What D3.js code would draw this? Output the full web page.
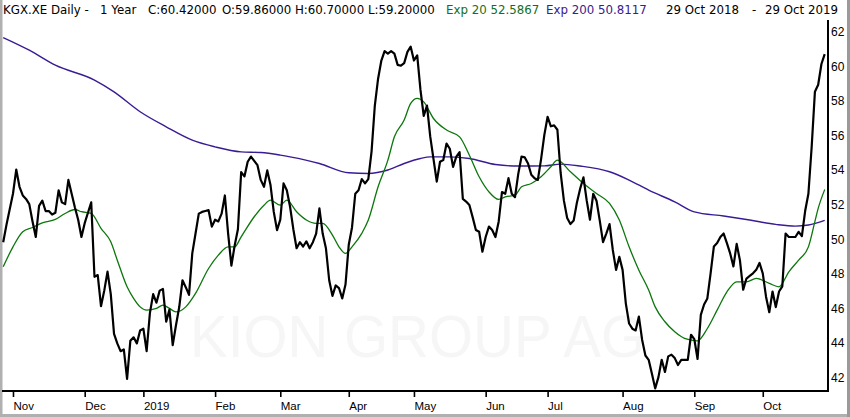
<!DOCTYPE html>
<html><head><meta charset="utf-8">
<script src="https://cdn.jsdelivr.net/npm/d3@7/dist/d3.min.js"></script>
<style>html,body{margin:0;padding:0;background:#fff;}svg{display:block;}</style>
</head><body>
<svg id="chart" width="850" height="417"></svg>
<script>
// ---- data ----
const closes = [
49.55,50.55,51.45,52.35,53.75,52.75,52.25,52.05,51.75,50.75,
49.85,51.65,51.95,51.35,51.35,51.15,51.25,52.55,51.85,51.75,
53.15,52.35,51.55,50.85,49.85,50.65,51.25,51.85,47.55,47.65,
45.85,46.75,47.85,46.55,44.25,43.7,43.25,43.35,41.65,43.85,
44.05,43.7,44.45,44.55,43.25,45.45,46.55,46.05,46.75,46.85,
44.95,45.65,43.6,44.75,45.8,47.35,46.95,46.5,48.9,50.05,
51.2,51.3,51.35,51.4,50.45,50.85,50.75,51.2,52.25,50.05,
48.2,49.35,50.3,53.6,53.35,54.2,54.5,54.25,54.0,53.15,
52.75,53.7,52.85,51.3,50.25,50.85,52.95,52.55,51.6,50.3,
49.2,49.55,49.3,49.6,49.2,49.55,50.05,51.5,50.05,49.2,
47.35,46.45,47.05,46.9,46.3,47.1,49.4,50.4,52.35,52.55,
53.2,52.95,53.2,54.8,57.45,59.0,60.05,60.6,60.45,60.6,
60.45,59.8,59.75,59.9,60.55,60.85,60.05,60.35,58.35,56.85,
57.45,55.65,54.35,53.05,54.2,54.3,55.25,54.95,53.9,54.5,
54.75,52.05,51.9,51.7,51.0,50.25,50.15,49.0,49.85,50.45,
50.25,49.85,50.75,52.45,52.35,53.25,52.35,52.15,53.5,54.5,
54.45,54.1,53.45,53.25,53.15,54.35,55.75,56.8,56.25,56.3,
56.05,53.55,51.95,50.95,50.6,50.8,51.85,52.65,53.3,51.95,
50.85,52.35,51.95,50.8,49.55,50.05,50.6,49.1,47.95,48.7,
47.95,46.0,44.85,44.55,44.45,45.25,43.9,43.0,42.75,41.95,
41.1,41.75,42.75,42.05,42.95,43.05,42.85,42.45,42.75,42.75,
42.75,44.2,43.95,42.8,45.35,45.95,46.3,47.75,49.3,49.5,
49.85,50.05,49.5,48.9,48.15,49.45,48.5,46.8,47.45,47.6,
47.75,47.95,48.35,47.75,46.4,45.5,46.7,45.8,46.7,47.0,
50.05,49.85,49.85,49.85,50.15,49.9,51.35,52.35,55.05,58.25,
58.65,59.85,60.42
];

// EMA 20 read at sampled trading days (day number from first bar)
const ema20Day = [0,3,6,9,12,16,19,22,24,27,30,33,35,38,40,42,44,47,49,51,53,56,59,63,66,69,71,73,77,80,82,85,87,90,93,96,98,101,103,105,107,110,112,115,118,120,123,125,127,129,132,136,140,143,146,149,152,154,157,159,162,165,168,170,174,178,182,186,189,192,195,198,200,203,206,209,212,213,216,219,222,225,228,231,235,238,241,244,247,249,250,252];
const ema20Val = [48.13,49.28,50.15,50.4,50.67,50.87,51.21,51.44,51.31,51.21,50.35,49.57,48.51,46.97,46.3,45.81,45.62,45.72,45.91,45.72,45.52,45.81,46.59,48.03,48.8,49.28,49.28,49.86,51.02,51.69,51.98,51.69,51.98,51.31,50.83,50.64,50.64,49.96,49.28,48.9,49.28,50.06,50.83,52.75,54.29,55.64,56.61,57.57,57.86,57.66,56.7,56.03,55.64,54.58,53.33,52.46,52.02,52.17,52.27,52.75,52.94,53.33,53.91,54.29,53.62,52.94,52.37,51.79,50.83,49.28,47.93,46.78,45.81,44.95,44.37,43.99,43.87,43.85,44.56,45.62,46.68,47.26,47.26,47.46,47.17,46.97,47.84,48.51,49.28,50.75,51.5,52.59];

// EMA 200 read at sampled trading days
const ema200Day = [0,8,16,28,34,42,50,58,65,73,79,85,88,97,106,112,118,123,128,131,137,143,151,158,166,171,177,186,192,198,206,212,221,229,237,243,247,252];
const ema200Val = [61.38,60.65,59.78,58.92,58.24,57.09,56.22,55.45,55.06,54.77,54.73,54.58,54.48,54.1,53.56,53.52,53.72,54.1,54.39,54.48,54.48,54.39,54.04,53.95,53.96,54.06,53.95,53.62,53.14,52.56,51.88,51.3,51.06,50.83,50.58,50.48,50.54,50.81];

const yTicks = [42,44,46,48,50,52,54,56,58,60,62];
const monthNames = ["2019","Feb","Mar","Apr","May","Jun","Jul","Aug","Sep","Oct","Nov","Dec"];
const holidays = ["2018-12-24","2018-12-25","2018-12-26","2019-01-01","2019-04-19","2019-04-22","2019-05-01","2019-06-10","2019-10-03"];
const titleParts = ["KGX.XE Daily -","1 Year","C:60.42000","O:59.86000","H:60.70000","L:59.20000","Exp 20 52.5867","Exp 200 50.8117","29 Oct 2018","-","29 Oct 2019"];
const watermark = "KION GROUP AG";

// ---- trading calendar ----
const fmt = d3.timeFormat("%Y-%m-%d");
const hol = new Set(holidays);
const dates = [];
for (let d = new Date(2018,9,29); d <= new Date(2019,9,29); d.setDate(d.getDate()+1)) {
  const wd = d.getDay();
  if (wd === 0 || wd === 6 || hol.has(fmt(d))) continue;
  dates.push(new Date(d));
}
const monthStarts = [];
for (let i = 1; i < dates.length; i++) if (dates[i].getMonth() !== dates[i-1].getMonth()) monthStarts.push(i);

// ---- layout ----
const svg = d3.select("#chart");
const W = 850, H = 417;
const plotRight = 828, axisY = 391, plotTop = 20;
const x = d3.scaleLinear().domain([0, closes.length - 1]).range([3.2, 824.7]);
const y = d3.scaleLinear().domain([42, 62]).range([372.8, 26.8]);

// window border
svg.append("rect").attr("x",0).attr("y",0).attr("width",W).attr("height",H).attr("fill","#fff");
svg.append("rect").attr("x",0).attr("y",0).attr("width",2.5).attr("height",H).attr("fill","#b0b0b0");
svg.append("rect").attr("x",0).attr("y",414).attr("width",W).attr("height",3).attr("fill","#b0b0b0");
svg.append("rect").attr("x",847).attr("y",0).attr("width",3).attr("height",H).attr("fill","#9a9a9a");

// watermark
svg.append("text").attr("x",190).attr("y",357)
  .attr("font-family","Liberation Sans, Arial, sans-serif").attr("font-size",60)
  .attr("textLength",455).attr("lengthAdjust","spacingAndGlyphs")
  .attr("fill","#f6f6f6").text(watermark);

// lines
const lineClose = d3.line().x((d,i)=>x(i)).y(d=>y(d));
const lineSparse = d3.line().x(d=>x(d[0])).y(d=>y(d[1])).curve(d3.curveMonotoneX);

svg.append("path").datum(ema200Day.map((d,i)=>[d,ema200Val[i]]))
  .attr("d",lineSparse).attr("fill","none").attr("stroke","#3a1b94").attr("stroke-width",1.4);
svg.append("path").datum(ema20Day.map((d,i)=>[d,ema20Val[i]]))
  .attr("d",lineSparse).attr("fill","none").attr("stroke","#0c760c").attr("stroke-width",1.3);
svg.append("path").datum(closes)
  .attr("d",lineClose).attr("fill","none").attr("stroke","#000").attr("stroke-width",2.2)
  .attr("stroke-linejoin","round");

// frame
svg.append("line").attr("x1",plotRight).attr("x2",plotRight).attr("y1",plotTop).attr("y2",axisY+1)
  .attr("stroke","#000").attr("stroke-width",2);
svg.append("line").attr("x1",2).attr("x2",plotRight+1).attr("y1",axisY).attr("y2",axisY)
  .attr("stroke","#000").attr("stroke-width",2);

// x axis
const xAxis = d3.axisBottom(x).tickValues(monthStarts)
  .tickFormat(i => monthNames[dates[i].getMonth()]).tickSize(6);
const gx = svg.append("g").attr("transform",`translate(0,${axisY})`).call(xAxis);
gx.select(".domain").remove();
gx.selectAll(".tick line").attr("stroke","#000").attr("stroke-width",1.6);
gx.selectAll(".tick text").attr("text-anchor","start").attr("x",0).attr("y",19).attr("dy",null)
  .attr("fill","#000").attr("font-family","Liberation Sans, Arial, sans-serif").attr("font-size",11.5);

// y axis (right)
const yAxis = d3.axisRight(y).tickValues(yTicks).tickSize(0).tickFormat(d3.format("d"));
const gy = svg.append("g").attr("transform",`translate(${plotRight},0)`).call(yAxis);
gy.select(".domain").remove();
gy.selectAll(".tick text").attr("x",3).attr("y",8.6).attr("dy",null)
  .attr("fill","#000").attr("font-family","Liberation Sans, Arial, sans-serif").attr("font-size",12);

// title
const titleX = [3,100,148,222,295,368,446,546,666,752,765];
const titleColor = ["#000","#000","#000","#000","#000","#000","#11701a","#35208c","#000","#000","#000"];
svg.append("g").selectAll("text").data(titleParts).join("text")
  .attr("x",(d,i)=>titleX[i]).attr("y",14)
  .attr("font-family","DejaVu Sans, Verdana, sans-serif").attr("font-size",11.8)
  .attr("fill",(d,i)=>titleColor[i]).text(d=>d);
</script>
</body></html>
